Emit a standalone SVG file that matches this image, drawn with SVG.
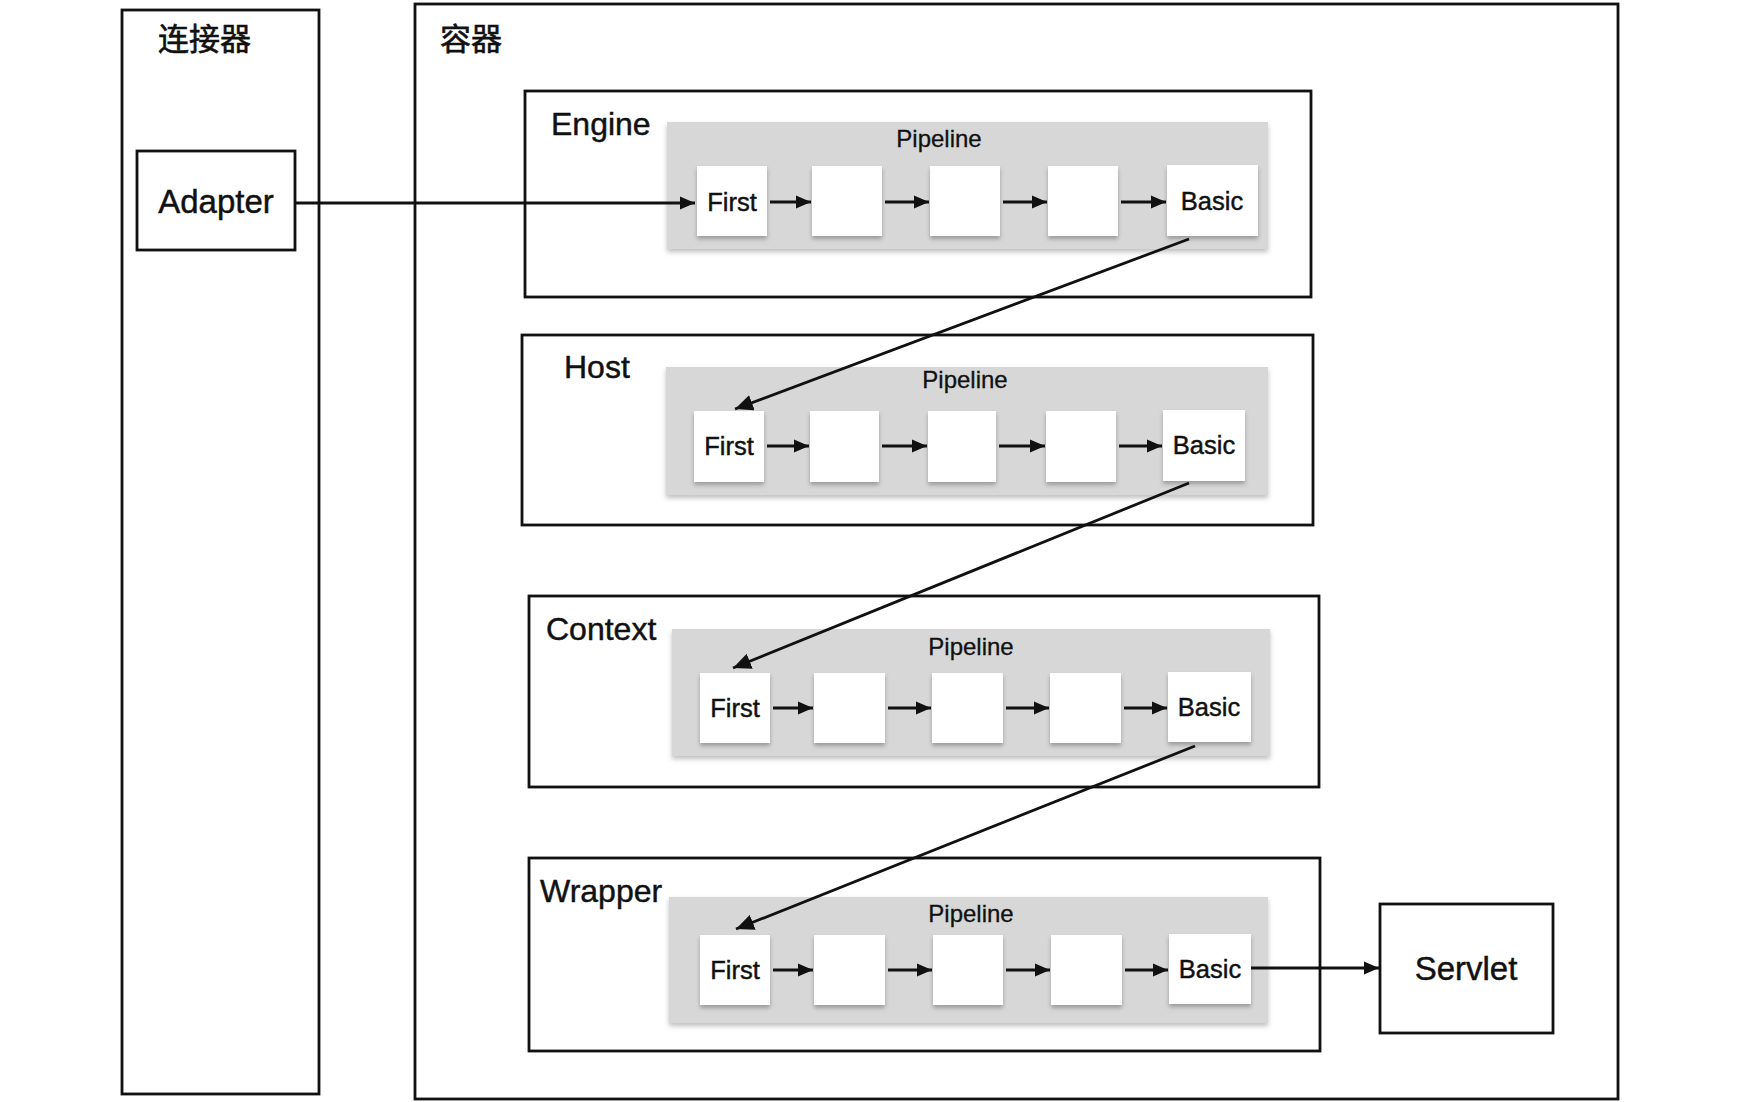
<svg xmlns="http://www.w3.org/2000/svg" width="1738" height="1102" viewBox="0 0 1738 1102">
<style>
.frame{fill:#fff;stroke:#111;stroke-width:2.8}
.pipe{fill:#d7d7d7;filter:url(#shadowG)}
.valve{fill:#fff;filter:url(#shadowW)}
text{stroke:#111;stroke-width:0.45;fill:#111}
.cjk{font-family:"Liberation Sans","Noto Sans CJK SC",sans-serif;font-size:31px;stroke-width:0.6}
.title{font-family:"Liberation Sans",Arial,sans-serif;font-size:32px}
.plabel{font-family:"Liberation Sans",Arial,sans-serif;font-size:24px;text-anchor:middle;stroke-width:0.3}
.vlabel{font-family:"Liberation Sans",Arial,sans-serif;font-size:25.5px;text-anchor:middle}
.big{font-family:"Liberation Sans",Arial,sans-serif;font-size:33px;text-anchor:middle}
.conn line{stroke:#111;stroke-width:2.8;fill:none}
.conn .a{marker-end:url(#ah)}
.conn .b{marker-end:url(#ahs)}
</style>
<defs>
<filter id="shadowW" x="-20%" y="-20%" width="140%" height="150%">
<feDropShadow dx="0" dy="3" stdDeviation="2" flood-color="#000" flood-opacity="0.28"/>
</filter>
<filter id="shadowG" x="-5%" y="-10%" width="110%" height="130%">
<feDropShadow dx="0" dy="3" stdDeviation="2.5" flood-color="#000" flood-opacity="0.25"/>
</filter>
<marker id="ah" markerUnits="userSpaceOnUse" markerWidth="20" markerHeight="16" refX="18" refY="8" orient="auto">
<path d="M0,0 L18,8 L0,16 Z" fill="#111"/>
</marker>
<marker id="ahs" markerUnits="userSpaceOnUse" markerWidth="16" markerHeight="14" refX="15" refY="7" orient="auto">
<path d="M0,0.5 L15,7 L0,13.5 Z" fill="#111"/>
</marker>
</defs>
<rect width="1738" height="1102" fill="#fff"/>

<g id="connector">
<rect class="frame" x="122" y="10" width="197" height="1084"/>
<text class="cjk" x="158" y="50">连接器</text>
</g>
<g id="container">
<rect class="frame" x="415" y="4" width="1203" height="1095"/>
<text class="cjk" x="440" y="50">容器</text>
</g>
<g id="adapter">
<rect class="frame" x="137" y="151" width="158" height="99"/>
<text class="big" x="216" y="213">Adapter</text>
</g>

<g id="engine">
<rect class="frame" x="525" y="91" width="786" height="206"/>
<text class="title" x="551" y="135">Engine</text>
<rect class="pipe" x="667" y="122" width="601" height="127"/>
<text class="plabel" x="939" y="147">Pipeline</text>
<rect class="valve" x="697" y="166" width="70" height="70"/>
<text class="vlabel" x="732" y="211">First</text>
<rect class="valve" x="812" y="166" width="70" height="70"/>
<rect class="valve" x="930" y="166" width="70" height="70"/>
<rect class="valve" x="1048" y="166" width="70" height="70"/>
<rect class="valve" x="1167" y="165" width="91" height="71"/>
<text class="vlabel" x="1212" y="210">Basic</text>
</g>

<g id="host">
<rect class="frame" x="522" y="335" width="791" height="190"/>
<text class="title" x="564" y="378">Host</text>
<rect class="pipe" x="666" y="367" width="602" height="128"/>
<text class="plabel" x="965" y="388">Pipeline</text>
<rect class="valve" x="694" y="411" width="70" height="71"/>
<text class="vlabel" x="729" y="455">First</text>
<rect class="valve" x="810" y="411" width="69" height="71"/>
<rect class="valve" x="928" y="411" width="68" height="71"/>
<rect class="valve" x="1046" y="411" width="70" height="71"/>
<rect class="valve" x="1163" y="410" width="82" height="71"/>
<text class="vlabel" x="1204" y="454">Basic</text>
</g>

<g id="context">
<rect class="frame" x="529" y="596" width="790" height="191"/>
<text class="title" x="546" y="640">Context</text>
<rect class="pipe" x="672" y="629" width="598" height="127"/>
<text class="plabel" x="971" y="655">Pipeline</text>
<rect class="valve" x="700" y="673" width="70" height="70"/>
<text class="vlabel" x="735" y="717">First</text>
<rect class="valve" x="814" y="673" width="71" height="70"/>
<rect class="valve" x="932" y="673" width="71" height="70"/>
<rect class="valve" x="1050" y="673" width="71" height="70"/>
<rect class="valve" x="1168" y="672" width="83" height="70"/>
<text class="vlabel" x="1209" y="716">Basic</text>
</g>

<g id="wrapper">
<rect class="frame" x="529" y="858" width="791" height="193"/>
<text class="title" x="540" y="902">Wrapper</text>
<rect class="pipe" x="669" y="897" width="599" height="126"/>
<text class="plabel" x="971" y="922">Pipeline</text>
<rect class="valve" x="700" y="935" width="70" height="70"/>
<text class="vlabel" x="735" y="979">First</text>
<rect class="valve" x="814" y="935" width="71" height="70"/>
<rect class="valve" x="933" y="935" width="70" height="70"/>
<rect class="valve" x="1051" y="935" width="71" height="70"/>
<rect class="valve" x="1169" y="934" width="82" height="70"/>
<text class="vlabel" x="1210" y="978">Basic</text>
</g>

<g id="servlet">
<rect class="frame" x="1380" y="904" width="173" height="129"/>
<text class="big" x="1466" y="980">Servlet</text>
</g>

<g id="connectors" class="conn">
<line class="b" x1="295" y1="203" x2="695" y2="203"/>
<line class="b" x1="770" y1="202" x2="811" y2="202"/>
<line class="b" x1="885" y1="202" x2="929" y2="202"/>
<line class="b" x1="1003" y1="202" x2="1047" y2="202"/>
<line class="b" x1="1121" y1="202" x2="1166" y2="202"/>
<line class="a" x1="1189" y1="239" x2="735" y2="409"/>

<line class="b" x1="767" y1="446" x2="809" y2="446"/>
<line class="b" x1="882" y1="446" x2="927" y2="446"/>
<line class="b" x1="999" y1="446" x2="1045" y2="446"/>
<line class="b" x1="1119" y1="446" x2="1162" y2="446"/>
<line class="a" x1="1189" y1="483" x2="733" y2="668"/>

<line class="b" x1="773" y1="708" x2="813" y2="708"/>
<line class="b" x1="888" y1="708" x2="931" y2="708"/>
<line class="b" x1="1006" y1="708" x2="1049" y2="708"/>
<line class="b" x1="1124" y1="708" x2="1167" y2="708"/>
<line class="a" x1="1195" y1="746" x2="736" y2="929"/>

<line class="b" x1="773" y1="970" x2="813" y2="970"/>
<line class="b" x1="888" y1="970" x2="932" y2="970"/>
<line class="b" x1="1006" y1="970" x2="1050" y2="970"/>
<line class="b" x1="1125" y1="970" x2="1168" y2="970"/>
<line class="b" x1="1251" y1="968" x2="1379" y2="968"/>
</g>
</svg>
